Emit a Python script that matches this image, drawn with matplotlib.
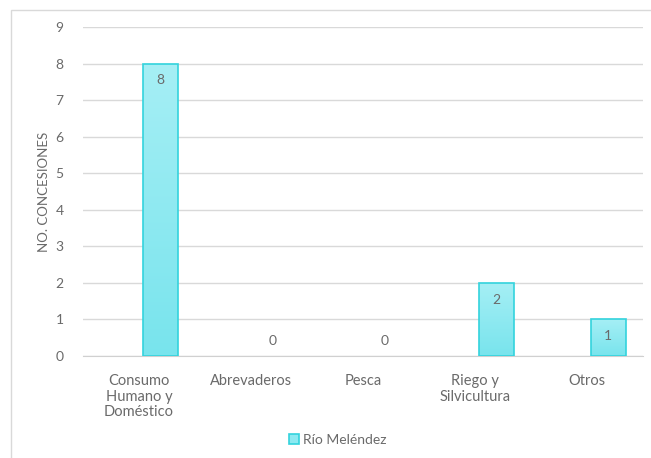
import numpy as np
import matplotlib
matplotlib.use("Agg")
import matplotlib.pyplot as plt
from matplotlib.patches import Rectangle
from matplotlib.colors import LinearSegmentedColormap

# Concesiones de agua por uso - Río Meléndez
categorias = ["Consumo\nHumano y\nDoméstico", "Abrevaderos", "Pesca",
              "Riego y\nSilvicultura", "Otros"]
concesiones = [8, 0, 0, 2, 1]
serie = "Río Meléndez"

plt.rcParams['font.family'] = ['Lato', 'DejaVu Sans']
gris = '#6a6a6a'

fig = plt.figure(figsize=(6.51, 4.58), dpi=100)
fig.patches.append(Rectangle((11/651, -0.01), 1.0, 1 - 10/458 + 0.01,
                             transform=fig.transFigure, fill=False,
                             edgecolor='#d9d9d9', lw=1.0))
ax = fig.add_axes([83/651, 1 - 356/458, (643 - 83)/651, (356 - 27)/458])

x = np.arange(len(categorias))
desplaz = 0.19   # la serie ocupa la posición derecha del grupo
xb = x + desplaz
bars = ax.bar(xb, concesiones, width=0.31, color='#8ce9f1',
              edgecolor='#33d3dd', linewidth=1.2, zorder=3)

# relleno degradado dentro de cada barra
cmap = LinearSegmentedColormap.from_list('cian', ['#78e4ed', '#a6eff5'])
grad = np.linspace(0, 1, 256).reshape(-1, 1)
for b in bars:
    if b.get_height() <= 0:
        b.set_visible(False)
        continue
    x0, w, h = b.get_x(), b.get_width(), b.get_height()
    im = ax.imshow(grad, cmap=cmap, origin='lower', aspect='auto',
                   extent=(x0, x0 + w, 0, h), zorder=3.5)
    im.set_clip_path(b)
    b.set_facecolor('none')
    b.set_zorder(4)

for xi, v in zip(xb, concesiones):
    dy = -12 if v > 0 else 11
    ax.annotate(str(v), (xi, v), xytext=(0, dy), textcoords='offset points',
                ha='center', va='center', color=gris, fontsize=10, zorder=5)

ax.set_ylim(0, 9)
ax.set_xlim(-0.5, len(categorias) - 0.5)
ax.set_yticks(range(10))
ax.set_xticks(x)
ax.set_xticklabels(categorias, fontsize=10.5, color=gris, linespacing=1.15)
ax.tick_params(axis='y', labelsize=10, labelcolor=gris, length=0, pad=14)
ax.tick_params(axis='x', length=0, pad=13)
ax.grid(axis='y', color='#d9d9d9', lw=1.0, zorder=0)
for s in ['top', 'right', 'left']:
    ax.spines[s].set_visible(False)
ax.spines['bottom'].set_color('#d0d0d0')
ax.set_ylabel('NO. CONCESIONES', fontsize=9.5, color=gris, labelpad=4)

ax.legend([Rectangle((0, 0), 1, 1, facecolor='#8ce9f1', edgecolor='#33d3dd', lw=1.2)],
          [serie], loc='center', bbox_to_anchor=(338/651, 1 - 440/458),
          bbox_transform=fig.transFigure, frameon=False, fontsize=10,
          labelcolor=gris, handlelength=0.7, handleheight=0.7, handletextpad=0.3)

fig.savefig('out.png', dpi=100)
